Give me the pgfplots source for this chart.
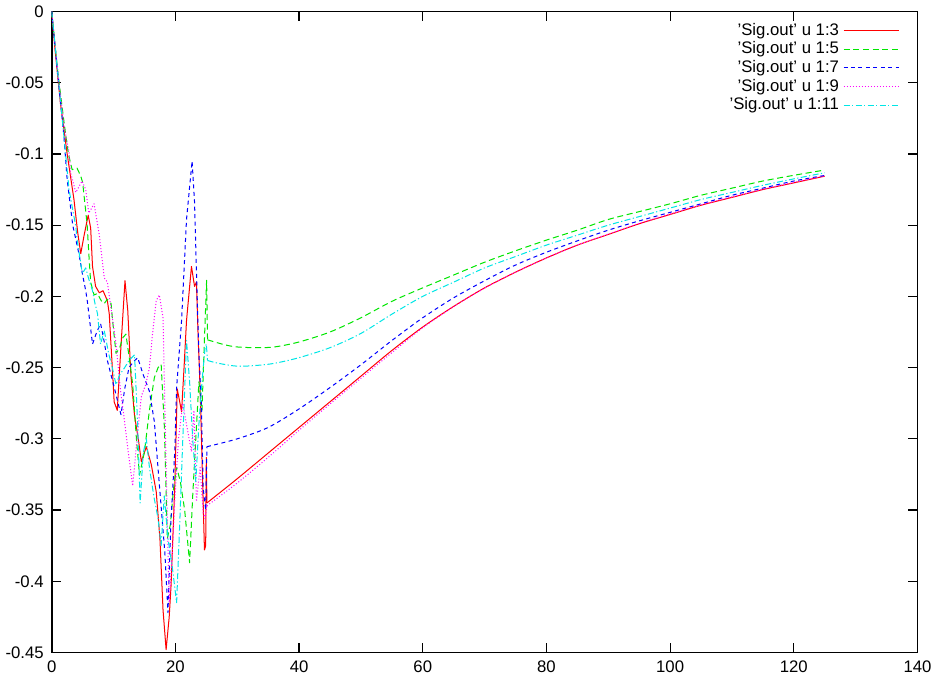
\documentclass[border=0pt]{standalone}
\usepackage{pgfplots}
\pgfplotsset{compat=1.18}
\usepackage{fontspec}
\setmainfont{Liberation Sans}
\definecolor{gred}{RGB}{255,0,0}
\definecolor{ggreen}{RGB}{0,230,0}
\definecolor{gblue}{RGB}{0,0,255}
\definecolor{gmag}{RGB}{255,0,255}
\definecolor{gcyan}{RGB}{0,230,230}
\tikzset{
  sred/.style={color=gred, solid},
  sgreen/.style={color=ggreen, dash pattern=on 3pt off 1.8pt},
  sblue/.style={color=gblue, dash pattern=on 2pt off 1.7pt},
  smag/.style={color=gmag, dash pattern=on 0.5pt off 1pt},
  scyan/.style={color=gcyan, dash pattern=on 3pt off 1.2pt on 0.6pt off 1.2pt},
}
\begin{document}
\fontsize{8.3}{10}\selectfont
\begin{tikzpicture}
\begin{axis}[
  scale only axis,
  width=429.5pt, height=318pt,
  xmin=0, xmax=140, ymin=-0.45, ymax=0,
  xtick={0,20,...,140},
  ytick={-0.45,-0.4,-0.35,-0.3,-0.25,-0.2,-0.15,-0.1,-0.05,0},
  yticklabels={-0.45,-0.4,-0.35,-0.3,-0.25,-0.2,-0.15,-0.1,-0.05,0},
  xticklabels={0,20,40,60,80,100,120,140},
  tick align=inside,
  major tick length=4.5pt,
  tick style={black, line width=0.6pt},
  axis line style={line width=0.8pt},
  every tick label/.append style={font=\fontsize{8.3}{10}\selectfont},
  xticklabel style={yshift=-1pt},
  yticklabel style={xshift=-1pt},
  legend style={draw=none, fill=none, at={(0.982,0.992)}, anchor=north east,
    legend cell align=right, font=\fontsize{8.3}{10}\selectfont,
    row sep=-2pt, inner sep=1pt},
  legend plot pos=right,
  legend image code/.code={\draw[#1, line width=0.5pt] (0pt,0pt) -- (27.5pt,0pt);},
  every axis plot/.append style={line width=0.5pt, line join=round},
]
% ---------- noisy part (with legend entries) ----------
\addplot[sred] coordinates {
(0,0) (0.5,-0.025) (1.4,-0.064) (2.5,-0.100) (3.6,-0.132) (4.2,-0.155) (4.7,-0.170)
(5.2,-0.158) (5.9,-0.143) (6.3,-0.152) (6.6,-0.179) (7.1,-0.193) (7.7,-0.1975)
(8.3,-0.196) (9.0,-0.203) (9.3,-0.212) (9.8,-0.250) (10.1,-0.274) (10.6,-0.280)
(11.2,-0.235) (11.85,-0.189) (12.3,-0.210) (12.8,-0.255) (13.4,-0.284) (14.0,-0.300)
(14.5,-0.316) (15.3,-0.3055) (16.1,-0.318) (16.9,-0.337) (17.5,-0.370) (18.0,-0.420)
(18.5,-0.448) (19.0,-0.425) (19.3,-0.403) (19.9,-0.333) (20.3,-0.265) (20.7,-0.274)
(21.0,-0.281) (21.4,-0.250) (21.8,-0.217) (22.6,-0.179) (23.1,-0.193) (23.4,-0.190)
(23.7,-0.231) (24.0,-0.265) (24.7,-0.378) (24.9,-0.375) (25.0,-0.313) (25.1,-0.345)
};
\addlegendentry{'Sig.out' u 1:3}
\addplot[sgreen] coordinates {
(0,0) (1,-0.043) (2,-0.078) (2.7,-0.100) (3.3,-0.111) (4.1,-0.110) (4.7,-0.1156)
(5.0,-0.120) (5.5,-0.140) (5.75,-0.151) (6.0,-0.170) (6.3,-0.190) (6.85,-0.199)
(7.4,-0.198) (8.0,-0.203) (8.5,-0.205) (9.0,-0.202) (9.6,-0.205) (9.8,-0.215)
(10.4,-0.240) (11.0,-0.236) (11.5,-0.229) (12.0,-0.2265) (12.6,-0.245) (13.1,-0.262)
(13.7,-0.300) (14.2,-0.3255) (15.0,-0.309) (15.8,-0.280) (16.6,-0.257) (17.2,-0.250)
(17.7,-0.2477) (18.2,-0.290) (18.7,-0.370) (19.2,-0.360) (19.7,-0.335) (20.2,-0.320)
(20.8,-0.330) (21.5,-0.350) (22.3,-0.387) (22.8,-0.340) (23.3,-0.300) (23.8,-0.260)
(24.3,-0.280) (24.7,-0.230) (25.05,-0.1887) (25.2,-0.2305)
};
\addlegendentry{'Sig.out' u 1:5}
\addplot[sblue] coordinates {
(0,0) (1,-0.045) (1.96,-0.087) (2.5,-0.118) (3.4,-0.150) (4.4,-0.170) (5.0,-0.185)
(5.5,-0.196) (5.75,-0.203) (6.6,-0.2335) (7.2,-0.226) (7.9,-0.219) (8.5,-0.232)
(9.0,-0.245) (10.0,-0.262) (11.2,-0.283) (11.8,-0.265) (12.5,-0.250) (13.2,-0.246)
(13.9,-0.243) (14.8,-0.255) (15.8,-0.2666) (16.6,-0.288) (17.2,-0.321) (18.3,-0.380)
(18.8,-0.422) (19.3,-0.356) (19.9,-0.309) (20.2,-0.264) (21.0,-0.217) (21.8,-0.146)
(22.7,-0.105) (23.1,-0.134) (23.4,-0.182) (23.8,-0.240) (24.2,-0.276) (24.5,-0.335)
(24.9,-0.350) (25.1,-0.3055)
};
\addlegendentry{'Sig.out' u 1:7}
\addplot[smag] coordinates {
(0,0) (1,-0.043) (2,-0.080) (2.8,-0.099) (3.05,-0.113) (3.9,-0.127) (4.9,-0.119)
(5.5,-0.125) (6.0,-0.1415) (6.85,-0.135) (7.7,-0.157) (8.5,-0.187) (9.0,-0.190)
(9.8,-0.2147) (10.4,-0.2335) (11.1,-0.265) (11.7,-0.285) (12.4,-0.310) (13.1,-0.333)
(13.8,-0.300) (14.5,-0.270) (15.2,-0.262) (15.8,-0.250) (16.3,-0.2265) (16.9,-0.203)
(17.4,-0.199) (18.0,-0.215) (18.5,-0.320) (19.0,-0.415) (19.5,-0.380) (19.9,-0.344)
(20.5,-0.300) (21.2,-0.275) (21.8,-0.290) (22.6,-0.309) (23.0,-0.280) (23.4,-0.344)
(24.0,-0.320) (24.5,-0.352) (24.8,-0.356) (25.1,-0.347)
};
\addlegendentry{'Sig.out' u 1:9}
\addplot[scyan] coordinates {
(0,0) (0.8,-0.035) (1.7,-0.0755) (2.8,-0.125) (3.9,-0.151) (4.1,-0.160) (4.7,-0.177)
(4.95,-0.184) (5.5,-0.180) (6.0,-0.188) (6.6,-0.196) (7.0,-0.205) (7.4,-0.212)
(7.9,-0.2335) (8.5,-0.224) (9.2,-0.240) (9.8,-0.250) (10.4,-0.262) (11.0,-0.255)
(11.8,-0.250) (12.5,-0.245) (13.4,-0.241) (13.9,-0.290) (14.3,-0.345) (14.8,-0.310)
(15.3,-0.300) (15.8,-0.320) (16.5,-0.340) (17.2,-0.356) (17.7,-0.375) (18.2,-0.340)
(18.8,-0.370) (19.5,-0.390) (20.2,-0.415) (20.7,-0.360) (21.2,-0.300) (21.8,-0.231)
(22.3,-0.260) (22.8,-0.300) (23.3,-0.330) (23.8,-0.290) (24.3,-0.260) (24.8,-0.236)
(25.0,-0.2335) (25.2,-0.245)
};
\addlegendentry{'Sig.out' u 1:11}
% ---------- smooth part ----------
\addplot[sred, smooth, forget plot] coordinates {
(25.1,-0.345) (30,-0.328) (35,-0.310) (40,-0.292) (45,-0.274) (50,-0.256) (55,-0.238)
(60,-0.2215) (65,-0.207) (70,-0.194) (75,-0.183) (80,-0.173) (85,-0.164) (90,-0.1565)
(95,-0.149) (100,-0.1425) (105,-0.136) (110,-0.1305) (115,-0.125) (120,-0.1203) (125,-0.1156)
};
\addplot[sgreen, smooth, forget plot] coordinates {
(25.2,-0.2305) (28,-0.234) (30,-0.2355) (33,-0.236) (36,-0.2355) (40,-0.232) (45,-0.225)
(50,-0.215) (55,-0.2035) (60,-0.194) (65,-0.185) (70,-0.176) (75,-0.168) (80,-0.1605)
(85,-0.1535) (90,-0.146) (95,-0.1405) (100,-0.135) (105,-0.129) (110,-0.124) (115,-0.119)
(120,-0.115) (125,-0.1113)
};
\addplot[sblue, smooth, forget plot] coordinates {
(25.1,-0.3055) (30,-0.300) (35,-0.292) (40,-0.279) (45,-0.264) (50,-0.248) (55,-0.231)
(60,-0.215) (65,-0.201) (70,-0.189) (75,-0.178) (80,-0.169) (85,-0.161) (90,-0.1535)
(95,-0.147) (100,-0.141) (105,-0.135) (110,-0.129) (115,-0.124) (120,-0.119) (125,-0.1151)
};
\addplot[smag, smooth, forget plot] coordinates {
(25.1,-0.347) (30,-0.331) (35,-0.313) (40,-0.294) (45,-0.2755) (50,-0.2575) (55,-0.2395)
(60,-0.222) (65,-0.2072) (70,-0.1942) (75,-0.183) (80,-0.173) (85,-0.164) (90,-0.1563)
(95,-0.1488) (100,-0.1422) (105,-0.1358) (110,-0.1302) (115,-0.1248) (120,-0.12) (125,-0.1154)
};
\addplot[scyan, smooth, forget plot] coordinates {
(25.2,-0.245) (27,-0.247) (30,-0.249) (33,-0.2485) (36,-0.247) (40,-0.243) (45,-0.236)
(50,-0.226) (55,-0.2125) (60,-0.200) (65,-0.190) (70,-0.180) (75,-0.172) (80,-0.164)
(85,-0.157) (90,-0.150) (95,-0.144) (100,-0.138) (105,-0.132) (110,-0.127) (115,-0.122)
(120,-0.1175) (125,-0.1132)
};
\end{axis}
\end{tikzpicture}
\end{document}
